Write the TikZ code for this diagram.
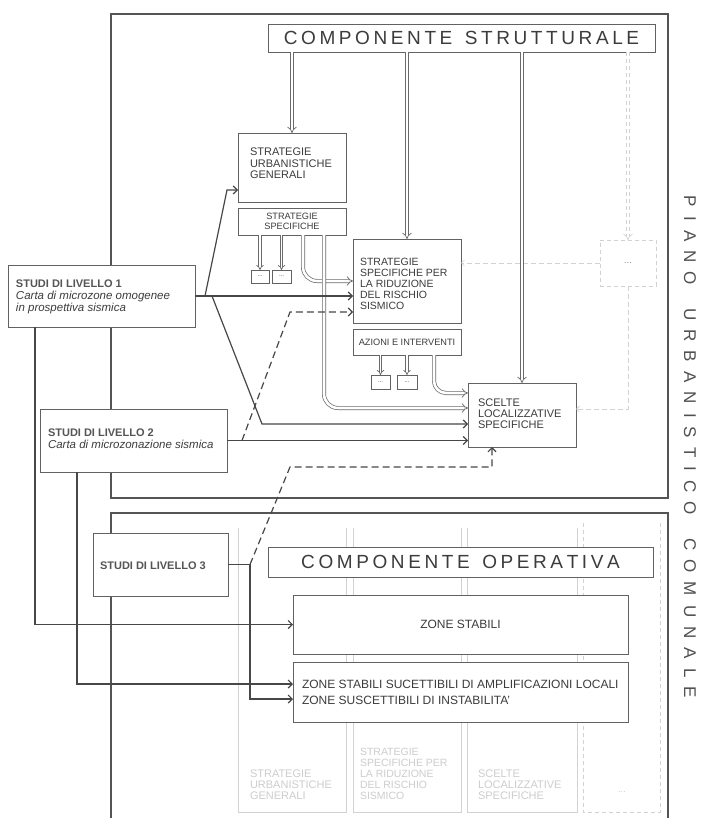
\documentclass[tikz,border=0pt]{standalone}
\usepackage{fontspec}
\setmainfont{Liberation Sans}
\usetikzlibrary{arrows.meta}
\definecolor{frc}{HTML}{555555}
\definecolor{bxc}{HTML}{626262}
\definecolor{arc}{HTML}{474747}
\definecolor{dlc}{HTML}{6A6A6A}
\definecolor{fdc}{HTML}{D2D2D2}
\definecolor{fdt}{HTML}{CDCDCD}
\definecolor{txc}{HTML}{3C3C3C}
\definecolor{ttc}{HTML}{555555}
\makeatletter
\newcommand\spaceout[2]{\def\sp@gap{#1}\@tfor\sp@t:=#2\do{\sp@t\hspace{\sp@gap}}\unskip}
\makeatother
\newcommand\ml[1]{\parbox[t]{400pt}{\raggedright #1}}
\newcommand\fsb{\fontsize{11}{11.3}\selectfont}
\newcommand\fsr{\fontsize{10.5}{11}\selectfont}
\newcommand\fss{\fontsize{9.2}{9.5}\selectfont}
\newcommand\fsl{\fontsize{11.5}{12}\selectfont}
\newcommand\fsz{\fontsize{12}{16}\selectfont}
\newcommand\ttl[1]{\textcolor{ttc}{\bfseries\fontsize{11}{12}\selectfont #1}}
\begin{document}
\begin{tikzpicture}[x=1pt,y=-1pt,
  frm/.style={draw=frc,line width=1.3pt},
  bx/.style={draw=bxc,line width=0.9pt,fill=white,rectangle,inner sep=0pt,outer sep=0pt,anchor=north west},
  txt/.style={inner sep=0pt,outer sep=0pt,text=txc,anchor=base west},
  arr/.style={draw=arc,line width=1.2pt,-{Straight Barb[length=4pt,width=8pt]}},
  darr/.style={arr,dash pattern=on 7pt off 4pt},
  dbl/.style={draw=dlc,line width=0.7pt,double=white,double distance=2.6pt,-{Implies[scale=1.3]}},
  sdbl/.style={dbl,double distance=1.8pt},
  fdbl/.style={dbl,draw=fdc,dash pattern=on 4pt off 3pt},
  fad/.style={draw=fdc,line width=0.7pt},
  fadarr/.style={draw=fdc,line width=0.7pt,dash pattern=on 5pt off 3pt,-{Straight Barb[length=3pt,width=6pt]}},
  big/.style={txt,anchor=center,font=\fontsize{19}{19}\selectfont}
]
\useasboundingbox (0,0) rectangle (707,818);
\fill[white] (0,0) rectangle (707,818);

% frames
\draw[frm] (111,14) rectangle (668,498);
\draw[frm] (111,818) -- (111,513) -- (668,513) -- (668,818);

% faded boxes of the lower frame
\draw[fad] (238,528) -- (238,812) -- (346,812) -- (346,528);
\draw[fad] (353,528) -- (353,812) -- (461,812) -- (461,528);
\draw[fad] (467,528) -- (467,812) -- (577,812) -- (577,528);
\draw[fad,dash pattern=on 4pt off 3pt] (583,523) -- (583,812) -- (660,812) -- (660,523);
\node[txt,text=fdt,font=\fsb] (fa) at (250,777) {\ml{STRATEGIE\\URBANISTICHE\\GENERALI}};
\node[txt,text=fdt,font=\fsr] (fb) at (360,755) {\ml{STRATEGIE\\SPECIFICHE PER\\LA RIDUZIONE\\DEL RISCHIO\\SISMICO}};
\node[txt,text=fdt,font=\fsb] (fc) at (478,777) {\ml{SCELTE\\LOCALIZZATIVE\\SPECIFICHE}};
\node[txt,text=fdt,font=\fss,anchor=center] (fd) at (622,792) {...};

% boxes
\node[bx,minimum width=387pt,minimum height=28pt] (cs) at (268,24) {};
\node[bx,minimum width=108pt,minimum height=69pt] (sug) at (238,133) {};
\node[bx,minimum width=108pt,minimum height=27pt] (ss) at (238,208) {};
\node[bx,minimum width=18pt,minimum height=13pt] (sb1) at (251,270) {};
\node[bx,minimum width=19pt,minimum height=13pt] (sb2) at (272,270) {};
\node[bx,minimum width=108pt,minimum height=84pt] (ssr) at (353,239) {};
\node[bx,minimum width=108pt,minimum height=26pt] (ai) at (353,329) {};
\node[bx,minimum width=19pt,minimum height=14pt] (sb3) at (371,375) {};
\node[bx,minimum width=20pt,minimum height=14pt] (sb4) at (397,375) {};
\node[bx,minimum width=108pt,minimum height=64pt] (sc) at (468,383) {};
\node[bx,draw=fdc,dash pattern=on 4pt off 3pt,minimum width=56pt,minimum height=46pt] (dots) at (600,240) {};
\node[bx,minimum width=385pt,minimum height=30pt] (co) at (268,547) {};
\node[bx,minimum width=335pt,minimum height=59pt] (zs) at (293,595) {};
\node[bx,minimum width=335pt,minimum height=60pt] (zss) at (293,662) {};
\node[bx,minimum width=187pt,minimum height=62pt] (l1) at (8,265) {};
\node[bx,minimum width=187pt,minimum height=63pt] (l2) at (40,409) {};
\node[bx,minimum width=135pt,minimum height=63pt] (l3) at (93,533) {};

% faded connectors of the "..." column
\draw[fadarr] (dots.west) -- (dots.west -| ssr.east);
\draw[fadarr] (dots.south) |- ([yshift=6pt]sc.east);
\draw[fdbl] (cs.south -| dots.north) -- (dots.north);

% double arrows
\draw[dbl] (cs.south -| sug.north) -- (sug.north);
\draw[dbl] (cs.south -| ssr.north) -- (ssr.north);
\draw[dbl] (cs.south -| sc.north) -- (sc.north);
\draw[sdbl] (ss.south -| sb1.north) -- (sb1.north);
\draw[sdbl] (ss.south -| sb2.north) -- (sb2.north);
\draw[sdbl] (ai.south -| sb3.north) -- (sb3.north);
\draw[sdbl] (ai.south -| sb4.north) -- (sb4.north);
\draw[dbl,rounded corners=14pt] ([xshift=11pt]ss.south) |- (ssr.west);
\draw[dbl,rounded corners=14pt] ([xshift=32pt]ss.south) |- ([yshift=7pt]sc.west);
\draw[dbl,rounded corners=12pt] ([xshift=27pt]ai.south) |- ([yshift=22pt]sc.west);

% bend points
\coordinate (j1) at (205,296);
\coordinate (j1u) at (227,190);
\coordinate (j1d) at (212,296);
\coordinate (j1e) at (262,424);
\coordinate (j2) at (242,440.5);
\coordinate (j2u) at (290,312);
\coordinate (j3) at (250,564.5);
\coordinate (j3u) at (290,467);

% study connectors
\draw[arr] (l1.east) -- (l1.east -| ssr.west);
\draw[arr] (j1) -- (j1u) -- (j1u -| sug.west);
\draw[arr] (j1d) -- (j1e) -- (j1e -| sc.west);
\draw[arr] (l2.east) -- (l2.east -| sc.west);
\draw[darr] (j2) -- (j2u) -- (j2u -| ssr.west);
\draw[arr] (l3.east) -- (j3) |- ([yshift=-7pt]zss.west);
\draw[darr] (j3) -- (j3u) -| ([xshift=-30pt]sc.south);
\draw[arr] ([xshift=27pt]l1.south west) |- (zs.west);
\draw[arr] ([xshift=37pt]l2.south west) |- ([yshift=8pt]zss.west);

% texts
\node[big] (cst) at (cs.center) {\spaceout{3.6pt}{COMPONENTE~STRUTTURALE}};
\node[big] (cot) at (co.center) {\spaceout{3.6pt}{COMPONENTE~OPERATIVA}};
\node[txt,anchor=center,rotate=-90,text=txc!90,font=\fontsize{17}{17}\selectfont] (pu) at (690,447) {\spaceout{9.1pt}{PIANO~URBANISTICO~COMUNALE}};
\node[txt,font=\fsb] (sugt) at (250,156) {\ml{STRATEGIE\\URBANISTICHE\\GENERALI}};
\node[txt,font=\fss,anchor=center,align=center] (sst) at (ss.center) {STRATEGIE\\SPECIFICHE};
\node[txt,font=\fontsize{6}{6}\selectfont,anchor=center] (sb1t) at (sb1.center) {...};
\node[txt,font=\fontsize{6}{6}\selectfont,anchor=center] (sb2t) at (sb2.center) {...};
\node[txt,font=\fontsize{6}{6}\selectfont,anchor=center] (sb3t) at (sb3.center) {...};
\node[txt,font=\fontsize{6}{6}\selectfont,anchor=center] (sb4t) at (sb4.center) {...};
\node[txt,font=\fsr] (ssrt) at (360,265.5) {\ml{STRATEGIE\\SPECIFICHE PER\\LA RIDUZIONE\\DEL RISCHIO\\SISMICO}};
\node[txt,font=\fss,anchor=center] (ait) at (ai.center) {AZIONI E INTERVENTI};
\node[txt,font=\fsb] (sct) at (478,406) {\ml{SCELTE\\LOCALIZZATIVE\\SPECIFICHE}};
\node[txt,font=\fss,anchor=center,text=gray] (dotst) at (dots.center) {...};
\node[txt,font=\fsl] (l1t) at (16,287) {\ml{\ttl{STUDI DI LIVELLO 1}\\\textit{Carta di microzone omogenee}\\\textit{in prospettiva sismica}}};
\node[txt,font=\fsl] (l2t) at (48,436) {\ml{\ttl{STUDI DI LIVELLO 2}\\\textit{Carta di microzonazione sismica}}};
\node[txt,font=\fsl] (l3t) at (100,569) {\ttl{STUDI DI LIVELLO 3}};
\node[txt,font=\fsz,anchor=center] (zst) at (zs.center) {ZONE STABILI};
\node[txt,font=\fsz] (zsst) at (302,688) {\ml{ZONE STABILI SUCETTIBILI DI AMPLIFICAZIONI LOCALI\\ZONE SUSCETTIBILI DI INSTABILITA'}};
\end{tikzpicture}
\end{document}
